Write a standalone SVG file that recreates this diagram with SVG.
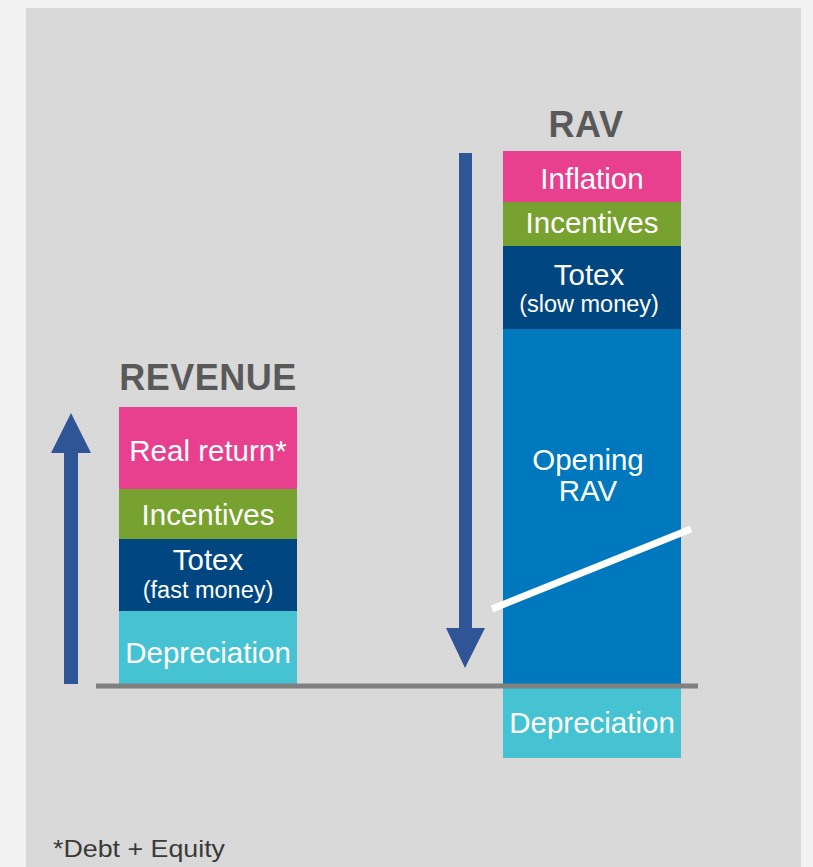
<svg xmlns="http://www.w3.org/2000/svg" width="813" height="867" viewBox="0 0 813 867">
<style>
.t{font-family:"Liberation Sans",Arial,sans-serif;fill:#fff;text-anchor:middle}
.big{font-size:29.5px}
.sm{font-size:23.5px}
.head{font-family:"Liberation Sans",Arial,sans-serif;font-weight:bold;font-size:36px;fill:#595959;text-anchor:middle;letter-spacing:0.5px}
.pink{fill:#e8408f}.green{fill:#78a22f}.navy{fill:#004680}.blue{fill:#0078be}.cyan{fill:#45c3d2}
.arrow{fill:#2f5597}
</style>
<rect x="0" y="0" width="813" height="867" fill="#f2f2f2"/>
<rect x="26" y="8" width="775" height="859" fill="#d9d9d9"/>
<g id="revenue">
<text class="head" x="208" y="390">REVENUE</text>
<rect class="pink" x="119" y="407" width="178" height="82"/>
<rect class="green" x="119" y="489" width="178" height="50"/>
<rect class="navy" x="119" y="539" width="178" height="72"/>
<rect class="cyan" x="119" y="611" width="178" height="73"/>
<text class="t big" x="208" y="461">Real return*</text>
<text class="t big" x="208" y="525">Incentives</text>
<text class="t big" x="208" y="570">Totex</text>
<text class="t sm" x="208" y="598">(fast money)</text>
<text class="t big" x="208" y="663">Depreciation</text>
</g>
<g id="rav">
<text class="head" x="586" y="137">RAV</text>
<rect class="pink" x="503" y="151" width="178" height="51"/>
<rect class="green" x="503" y="202" width="178" height="44"/>
<rect class="navy" x="503" y="246" width="178" height="83"/>
<rect class="blue" x="503" y="329" width="178" height="357"/>
<rect class="cyan" x="503" y="688" width="178" height="70"/>
<text class="t big" x="592" y="189">Inflation</text>
<text class="t big" x="592" y="233">Incentives</text>
<text class="t big" x="589" y="285">Totex</text>
<text class="t sm" x="589" y="312">(slow money)</text>
<text class="t big" x="588" y="470">Opening</text>
<text class="t big" x="588" y="501">RAV</text>
<text class="t big" x="592" y="733">Depreciation</text>
</g>
<g id="connectors">
<polygon class="arrow" points="64,684 78,684 78,453 91,453 71,413 51,453 64,453"/>
<polygon class="arrow" points="459,153 472,153 472,628 485,628 465,668 446,628 459,628"/>
<line x1="96" y1="686" x2="698" y2="686" stroke="#808080" stroke-width="5"/>
<line x1="492" y1="609" x2="691" y2="529" stroke="#fff" stroke-width="7"/>
</g>
<text x="53" y="857" font-family="'Liberation Sans',Arial,sans-serif" font-size="24" fill="#3a3a3a" textLength="172" lengthAdjust="spacingAndGlyphs">*Debt + Equity</text>
</svg>
